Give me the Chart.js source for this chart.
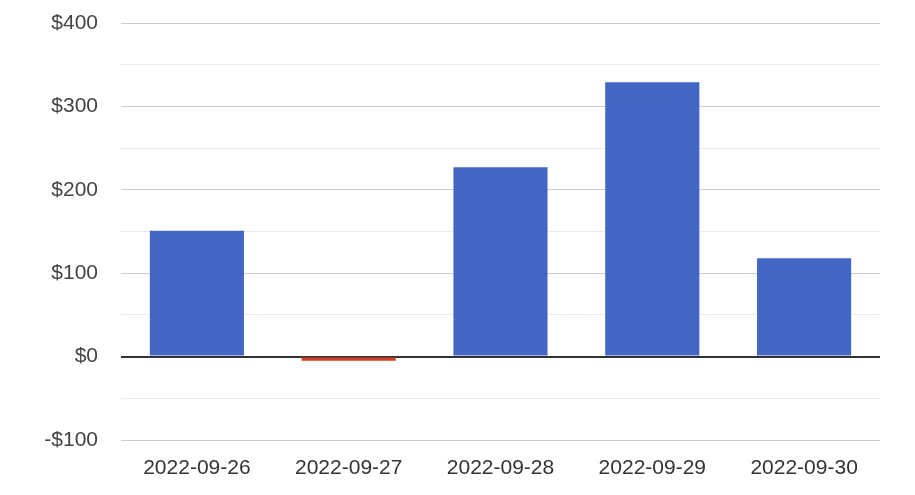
<!DOCTYPE html>
<html>
<head>
<meta charset="utf-8">
<script src="https://cdn.jsdelivr.net/npm/chart.js@4"></script>
<style>
  body { margin: 0; background: #fff; }
  #wrap { width: 915px; height: 495px; }
</style>
</head>
<body>
<div id="wrap"><canvas id="myChart"></canvas></div>
<script>
// Data
const days = ['2022-09-26', '2022-09-27', '2022-09-28', '2022-09-29', '2022-09-30'];
const profit = [151, -5, 227, 329, 118];
const yTicks = [-100, 0, 100, 200, 300, 400];

const blue = '#4166c6';
const red = '#cc4125';

const data = {
  labels: days,
  datasets: [{
    data: profit,
    backgroundColor: profit.map(v => v < 0 ? red : blue),
    barPercentage: 0.62,
    categoryPercentage: 1
  }]
};

const config = {
  type: 'bar',
  data,
  options: {
    responsive: true,
    maintainAspectRatio: false,
    animation: false,
    layout: { padding: { top: 23, right: 35, bottom: 0, left: 0 } },
    plugins: { legend: { display: false }, tooltip: { enabled: false } },
    scales: {
      x: {
        grid: { display: false, drawTicks: false },
        border: { display: false },
        ticks: {
          color: '#333',
          padding: 16,
          font: { family: 'Liberation Sans, Arial', size: 21 }
        },
        afterFit: s => { s.height = 55; s.paddingLeft = 0; s.paddingRight = 0; }
      },
      y: {
        min: -100,
        max: 400,
        border: { display: false },
        grid: {
          drawTicks: false,
          color: c => c.tick.value === 0 ? '#333' : (yTicks.includes(c.tick.value) ? '#cccccc' : '#ebebeb'),
          lineWidth: c => c.tick.value === 0 ? 2 : 1
        },
        ticks: {
          stepSize: 50,
          color: '#444',
          padding: 23,
          font: { family: 'Liberation Sans, Arial', size: 21 },
          callback: v => yTicks.includes(v) ? (v < 0 ? '-$' + Math.abs(v) : '$' + v) : ''
        },
        afterFit: s => { s.width = 121; s.paddingTop = 0; s.paddingBottom = 0; }
      }
    }
  }
};

var myChart = new Chart(document.getElementById('myChart'), config);
</script>
</body>
</html>
